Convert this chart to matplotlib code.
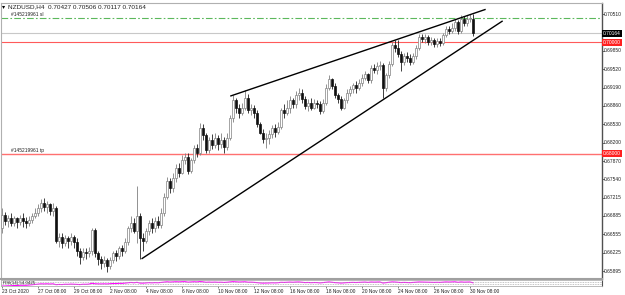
import numpy as np
import pandas as pd
import matplotlib.pyplot as plt
from matplotlib.transforms import blended_transform_factory

# NZDUSD H4 candles, 23 Oct 2020 .. 30 Nov 2020
opens = [
    .6667, .6691, .6680, .6685, .6676, .6684, .6678, .6685, .6680, .6675,
    .6682, .6689, .6694, .6702, .6711, .6705, .6709, .6698, .6703, .6644,
    .6651, .6640, .6649, .6644, .6651, .6642, .6626, .6615, .6624, .6621,
    .6626, .6664, .6621, .6612, .6604, .6610, .6599, .6610, .6621, .6617,
    .6630, .6626, .6642, .6666, .6676, .6662, .6689, .6649, .6644, .6662,
    .6676, .6666, .6680, .6673, .6694, .6723, .6752, .6738, .6756, .6774,
    .6766, .6788, .6795, .6770, .6788, .6810, .6801, .6847, .6833, .6806,
    .6824, .6815, .6828, .6817, .6824, .6813, .6829, .6864, .6896, .6882,
    .6874, .6883, .6901, .6878, .6882, .6873, .6853, .6838, .6826, .6829,
    .6835, .6846, .6840, .6849, .6878, .6873, .6882, .6896, .6889, .6905,
    .6910, .6898, .6885, .6892, .6883, .6891, .6889, .6876, .6892, .6919,
    .6934, .6921, .6905, .6898, .6883, .6896, .6909, .6916, .6923, .6918,
    .6927, .6937, .6943, .6932, .6954, .6950, .6957, .6959, .6918, .6941,
    .6961, .6995, .6990, .6979, .6964, .6975, .6972, .6964, .6975, .6990,
    .7009, .7006, .7009, .7000, .7004, .6997, .7002, .6999, .7013, .7024,
    .7020, .7026, .7036, .7020, .7042, .7035, .7042, .70427]
highs = [
    .6703, .6696, .6691, .6693, .6689, .6687, .6691, .6693, .6687, .6689,
    .6694, .6702, .6709, .6718, .6721, .6716, .6712, .6711, .6707, .6658,
    .6657, .6655, .6653, .6657, .6655, .6648, .6631, .6631, .6630, .6633,
    .6667, .6667, .6626, .6617, .6617, .6613, .6615, .6626, .6628, .6635,
    .6637, .6648, .6671, .6689, .6684, .6743, .6694, .6658, .6667, .6682,
    .6684, .6687, .6689, .6702, .6729, .6759, .6757, .6766, .6781, .6783,
    .6797, .6802, .6801, .6793, .6815, .6817, .6855, .6853, .6838, .6831,
    .6835, .6837, .6833, .6837, .6831, .6837, .6869, .6905, .6901, .6889,
    .6891, .6914, .6907, .6889, .6887, .6878, .6858, .6844, .6837, .6842,
    .6851, .6853, .6858, .6883, .6889, .6896, .6903, .6901, .6912, .6918,
    .6916, .6903, .6898, .6900, .6898, .6896, .6894, .6898, .6925, .6941,
    .6937, .6927, .6909, .6903, .6901, .6916, .6921, .6928, .6930, .6934,
    .6943, .6948, .6946, .6959, .6961, .6964, .6966, .6963, .6946, .6966,
    .7000, .7004, .7004, .6984, .6981, .6982, .6979, .6981, .6995, .7015,
    .7015, .7015, .7013, .7009, .7008, .7008, .7008, .7017, .7029, .7029,
    .7035, .7042, .7040, .7049, .7047, .7049, .7051, .70506]
lows = [
    .6657, .6673, .6669, .6671, .6671, .6667, .6673, .6669, .6666, .6671,
    .6676, .6684, .6689, .6696, .6698, .6694, .6691, .6689, .6639, .6633,
    .6630, .6635, .6631, .6637, .6630, .6617, .6603, .6610, .6612, .6615,
    .6619, .6615, .6601, .6594, .6597, .6588, .6594, .6604, .6608, .6612,
    .6617, .6622, .6637, .6660, .6657, .6639, .6612, .6626, .6639, .6655,
    .6658, .6660, .6666, .6667, .6689, .6718, .6730, .6732, .6750, .6759,
    .6763, .6781, .6763, .6765, .6783, .6795, .6797, .6824, .6801, .6801,
    .6808, .6810, .6806, .6811, .6802, .6806, .6824, .6858, .6874, .6865,
    .6869, .6878, .6873, .6869, .6865, .6849, .6835, .6820, .6811, .6817,
    .6828, .6831, .6835, .6844, .6864, .6869, .6874, .6882, .6883, .6896,
    .6892, .6880, .6876, .6878, .6880, .6882, .6871, .6873, .6887, .6914,
    .6916, .6900, .6892, .6878, .6880, .6891, .6903, .6910, .6910, .6914,
    .6921, .6932, .6927, .6928, .6945, .6943, .6950, .6901, .6912, .6936,
    .6957, .6982, .6973, .6948, .6959, .6964, .6959, .6961, .6970, .6986,
    .7000, .6999, .6995, .6995, .6991, .6991, .6993, .6995, .7009, .7015,
    .7017, .7020, .7015, .7017, .7029, .7029, .7036, .70117]
closes = [
    .6691, .6680, .6685, .6676, .6684, .6678, .6685, .6680, .6675, .6682,
    .6689, .6694, .6702, .6711, .6705, .6709, .6698, .6703, .6644, .6651,
    .6640, .6649, .6644, .6651, .6642, .6626, .6615, .6624, .6621, .6626,
    .6664, .6621, .6612, .6604, .6610, .6599, .6610, .6621, .6617, .6630,
    .6626, .6642, .6666, .6676, .6662, .6689, .6649, .6644, .6662, .6676,
    .6666, .6680, .6673, .6694, .6723, .6752, .6738, .6756, .6774, .6766,
    .6788, .6795, .6770, .6788, .6810, .6801, .6847, .6833, .6806, .6824,
    .6815, .6828, .6817, .6824, .6813, .6829, .6864, .6896, .6882, .6874,
    .6883, .6901, .6878, .6882, .6873, .6853, .6838, .6826, .6829, .6835,
    .6846, .6840, .6849, .6878, .6873, .6882, .6896, .6889, .6905, .6910,
    .6898, .6885, .6892, .6883, .6891, .6889, .6876, .6892, .6919, .6934,
    .6921, .6905, .6898, .6883, .6896, .6909, .6916, .6923, .6918, .6927,
    .6937, .6943, .6932, .6954, .6950, .6957, .6959, .6918, .6941, .6961,
    .6995, .6990, .6979, .6964, .6975, .6972, .6964, .6975, .6990, .7009,
    .7006, .7009, .7000, .7004, .6997, .7002, .6999, .7013, .7024, .7020,
    .7026, .7036, .7020, .7042, .7035, .7042, .7044, .70164]

date_pos = [0, 12, 24, 36, 48, 60, 72, 84, 96, 108, 120, 132, 144, 156]
date_labels = ['23 Oct 2020', '27 Oct 08:00', '29 Oct 08:00', '2 Nov 08:00',
               '4 Nov 08:00', '6 Nov 08:00', '10 Nov 08:00', '12 Nov 08:00',
               '16 Nov 08:00', '18 Nov 08:00', '20 Nov 08:00', '24 Nov 08:00',
               '26 Nov 08:00', '30 Nov 08:00']
price_ticks = [0.70510, 0.69850, 0.69520, 0.69190, 0.68860, 0.68530, 0.68200,
               0.67870, 0.67540, 0.67215, 0.66885, 0.66555, 0.66225, 0.65895]

# drawn objects (bar index, price)
upper_x = [76.3, 161.0]
upper_y = [0.6904, 0.7059]
lower_x = [46.7, 166.7]
lower_y = [0.6612, 0.7038]
sl_level = 0.70438
tp_level = 0.68000
level_70 = 0.70000
bid = 0.70164

W, H = 625, 295
fig = plt.figure(figsize=(W / 100, H / 100), dpi=100)
plt.rcParams['font.family'] = ['Liberation Sans', 'DejaVu Sans']

def px_box(x0, y0, x1, y1):
    return [x0 / W, 1 - y1 / H, (x1 - x0) / W, (y1 - y0) / H]

ax = fig.add_axes(px_box(1, 3, 602, 279))
ax2 = fig.add_axes(px_box(1, 280, 602, 286))

x = np.arange(len(closes))
o = np.array(opens); hi = np.array(highs); lo = np.array(lows); c = np.array(closes)
up = c >= o
ax.vlines(x[up], lo[up], hi[up], color='#808080', lw=0.6, zorder=2)
ax.vlines(x[~up], lo[~up], hi[~up], color='#202020', lw=0.6, zorder=2)
ax.bar(x[up], c[up] - o[up], bottom=o[up], width=0.6, color='white',
       edgecolor='#808080', lw=0.5, zorder=3)
ax.bar(x[~up], c[~up] - o[~up], bottom=o[~up], width=0.6, color='#101010',
       edgecolor='#101010', lw=0.5, zorder=3)

# trend lines
ax.plot(upper_x, upper_y, color='black', lw=1.0, zorder=4)
ax.plot(lower_x, lower_y, color='black', lw=1.0, zorder=4)

# order / price lines
ax.axhline(sl_level, color='#5cb85c', lw=0.8, ls=(0, (6, 2, 1.5, 2)), zorder=1)
ax.axhline(bid, color='#c8c8c8', lw=0.8, zorder=1)
ax.axhline(level_70, color='#ff5a5a', lw=0.8, zorder=1)
ax.axhline(tp_level, color='#ff7070', lw=1.0, zorder=1)

ax.set_xlim(-1 / 3, 200)
ax.set_ylim(0.65752, 0.70708)
ax.set_xticks([])
ax.set_yticks([])
for s in ['left', 'top']:
    ax.spines[s].set_color('#b0b0b0')
    ax.spines[s].set_linewidth(0.8)
ax.spines['right'].set_color('#505050')
ax.spines['right'].set_linewidth(1.0)
ax.spines['bottom'].set_color('#a0a0a0')
ax.spines['bottom'].set_linewidth(1.5)

tr = blended_transform_factory(ax.transAxes, ax.transData)
for p in price_ticks:
    ax.plot([1.0, 1.004], [p, p], transform=tr, color='#505050', lw=0.6, clip_on=False)
    ax.text(1.003, p, f'{p:.5f}', transform=tr, fontsize=3.5, va='center',
            ha='left', color='#202020', clip_on=False)
for p, bg in [(bid, 'black'), (level_70, '#ff2020'), (tp_level, '#ff2020')]:
    ax.text(1.002, p, f'{p:.5f}', transform=tr, fontsize=3.5, va='center',
            ha='left', color='white', clip_on=False, zorder=6,
            bbox=dict(facecolor=bg, edgecolor='none', pad=0.6))

# labels of the order lines
ax.text(3, sl_level + 0.0001, '#145219961 sl', fontsize=3.5, color='#202020',
        va='bottom', ha='left')
ax.text(3, tp_level + 0.0001, '#145219961 tp', fontsize=3.5, color='#202020',
        va='bottom', ha='left')

fig.text(2 / W, 1 - 7 / H, '\u25be', fontsize=4.5, va='center', ha='left',
         family=['DejaVu Sans'])
fig.text(8 / W, 1 - 7 / H, 'NZDUSD,H4  0.70427 0.70506 0.70117 0.70164',
         fontsize=4.6, va='center', ha='left', color='#202020')

# RSI(14) sub window
delta = pd.Series(closes).diff()
gain = delta.clip(lower=0).ewm(alpha=1 / 14, adjust=False).mean()
loss = (-delta.clip(upper=0)).ewm(alpha=1 / 14, adjust=False).mean()
rsi = (100 - 100 / (1 + gain / loss)).bfill()
ax2.plot(x, rsi, color='#ff00ff', lw=0.8)
ax2.axhline(70, color='#b0b0b0', lw=0.6, ls=(0, (1, 1)))
ax2.axhline(30, color='#b0b0b0', lw=0.6, ls=(0, (1, 1)))
ax2.set_xlim(-1 / 3, 200)
ax2.set_ylim(0, 100)
ax2.set_yticks([])
ax2.set_xticks(date_pos)
ax2.set_xticklabels(date_labels, fontsize=3.5, ha='left', color='#202020')
ax2.tick_params(axis='x', length=1.5, width=0.5, pad=1, color='#505050')
for s in ['left', 'top', 'bottom']:
    ax2.spines[s].set_color('#b0b0b0')
    ax2.spines[s].set_linewidth(0.6)
ax2.spines['right'].set_color('#505050')
ax2.text(0.004, 0.5, f'RSI(14) {rsi.iloc[-1]:.4f}', transform=ax2.transAxes,
         fontsize=3.2, va='center', ha='left', color='#202020')

fig.savefig('out.png', dpi=100)
